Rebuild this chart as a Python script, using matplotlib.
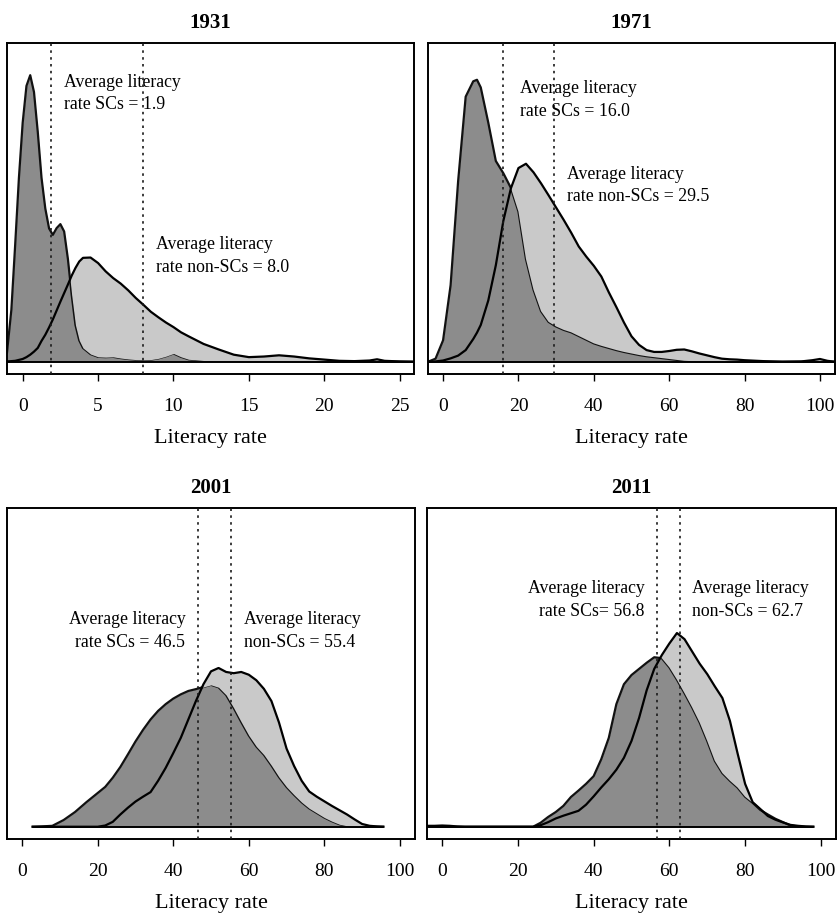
import numpy as np
import matplotlib
matplotlib.use("Agg")
import matplotlib.pyplot as plt

plt.rcParams['font.family'] = ['Liberation Serif', 'DejaVu Serif']

# density curves (relative height, 1.0 = top of data range)
years = ['1931', '1971', '2001', '2011']

x1931 = [-1.04, -0.75, -0.5, -0.25, 0, 0.25, 0.5, 0.75, 1.0, 1.25, 1.5, 1.75, 2.0, 2.25, 2.5, 2.75,
         3.0, 3.25, 3.5, 3.75, 4.0, 4.5, 5.0, 5.5, 6.0, 6.5, 7.0, 7.5, 8.0, 8.5, 9.0, 9.5, 10.0, 10.5,
         11, 12, 13, 14, 15, 16, 17, 18, 19, 20, 21, 22, 23, 23.5, 24, 25, 25.9]
sc1931 = [0.03, 0.17, 0.38, 0.60, 0.78, 0.90, 0.935, 0.88, 0.75, 0.60, 0.50, 0.435, 0.414, 0.436, 0.449, 0.425,
          0.335, 0.218, 0.12, 0.07, 0.045, 0.025, 0.016, 0.015, 0.016, 0.012, 0.009, 0.007, 0.006, 0.007, 0.011, 0.018, 0.027, 0.016,
          0.008, 0.004, 0.003, 0.003, 0.002, 0.003, 0.003, 0.002, 0.001, 0.001, 0.001, 0.001, 0.001, 0.001, 0.001, 0.0, 0.0]
non1931 = [0.001, 0.002, 0.003, 0.006, 0.009, 0.015, 0.023, 0.033, 0.045, 0.068, 0.088, 0.112, 0.138, 0.167, 0.196, 0.224,
           0.252, 0.281, 0.306, 0.327, 0.339, 0.340, 0.322, 0.295, 0.273, 0.255, 0.233, 0.208, 0.186, 0.163, 0.145, 0.128, 0.113, 0.096,
           0.083, 0.058, 0.040, 0.023, 0.015, 0.017, 0.021, 0.017, 0.011, 0.007, 0.003, 0.002, 0.004, 0.008, 0.003, 0.001, 0.0]

x1971 = [-4, -2, 0, 2, 4, 6, 8, 9, 10, 12, 14, 16, 18, 20, 22, 24, 26, 28, 30, 32, 34, 36, 38, 40, 42, 44,
         46, 48, 50, 52, 54, 56, 58, 60, 62, 64, 66, 68, 70, 72, 74, 76, 78, 80, 85, 90, 95, 98, 100, 102, 104]
sc1971 = [0.0, 0.01, 0.07, 0.25, 0.59, 0.865, 0.915, 0.92, 0.895, 0.78, 0.655, 0.615, 0.567, 0.49, 0.335, 0.235, 0.165, 0.13, 0.115, 0.104, 0.096, 0.084, 0.072, 0.060, 0.052, 0.045,
          0.038, 0.032, 0.027, 0.022, 0.018, 0.015, 0.012, 0.009, 0.006, 0.003, 0.002, 0.001, 0.001, 0.001, 0.001, 0.0, 0.0, 0.0, 0.0, 0.0, 0.0, 0.0, 0.0, 0.0, 0.0]
non1971 = [0.0, 0.001, 0.004, 0.011, 0.02, 0.038, 0.074, 0.095, 0.12, 0.2, 0.315, 0.46, 0.566, 0.632, 0.646, 0.618, 0.582, 0.543, 0.503, 0.463, 0.421, 0.376, 0.343, 0.313, 0.278, 0.226,
           0.178, 0.128, 0.083, 0.055, 0.038, 0.032, 0.032, 0.035, 0.039, 0.04, 0.034, 0.027, 0.021, 0.015, 0.01, 0.008, 0.007, 0.005, 0.002, 0.0, 0.001, 0.005, 0.009, 0.003, 0.0]

x2001 = [2.8, 5, 8, 11, 14, 17, 20, 22, 24, 26, 28, 30, 32, 34, 36, 38, 40, 42, 44, 46, 48, 50, 52,
         54, 56, 58, 60, 62, 64, 66, 68, 70, 72, 74, 76, 78, 80, 82, 84, 86, 88, 90, 92, 94, 95.6]
sc2001 = [0.0, 0.001, 0.003, 0.022, 0.048, 0.08, 0.11, 0.13, 0.16, 0.195, 0.236, 0.278, 0.316, 0.35, 0.378, 0.4, 0.418, 0.432, 0.443, 0.449, 0.456, 0.463, 0.455,
          0.43, 0.388, 0.342, 0.298, 0.262, 0.235, 0.2, 0.162, 0.13, 0.104, 0.08, 0.06, 0.045, 0.03, 0.018, 0.008, 0.003, 0.0, 0.0, 0.0, 0.0, 0.0]
non2001 = [0.0, 0.0, 0.0, 0.0, 0.0, 0.0, 0.0, 0.004, 0.016, 0.04, 0.062, 0.082, 0.098, 0.113, 0.15, 0.192, 0.24, 0.29, 0.35, 0.41, 0.465, 0.507, 0.518,
           0.505, 0.501, 0.505, 0.496, 0.478, 0.45, 0.41, 0.34, 0.255, 0.198, 0.15, 0.115, 0.098, 0.083, 0.068, 0.054, 0.04, 0.024, 0.009, 0.003, 0.001, 0.0]

x2011 = [-4, -2, 0, 2, 4, 6, 8, 10, 15, 20, 24, 26, 28, 30, 32, 34, 36, 38, 40, 42, 44, 46, 48, 50,
         52, 54, 56, 58, 60, 62, 64, 66, 68, 70, 72, 74, 76, 78, 80, 82, 84, 86, 88, 90, 92, 94, 96, 98]
sc2011 = [0.0, 0.0, 0.0, 0.0, 0.0, 0.0, 0.0, 0.0, 0.0, 0.0, 0.0, 0.013, 0.032, 0.048, 0.068, 0.097, 0.118, 0.14, 0.165, 0.22, 0.29, 0.4, 0.465, 0.495,
          0.515, 0.535, 0.553, 0.55, 0.52, 0.48, 0.436, 0.39, 0.34, 0.28, 0.215, 0.175, 0.15, 0.128, 0.098, 0.078, 0.055, 0.04, 0.026, 0.015, 0.004, 0.001, 0.0, 0.0]
non2011 = [0.003, 0.003, 0.004, 0.003, 0.001, 0.0, 0.0, 0.0, 0.0, 0.0, 0.0, 0.005, 0.015, 0.027, 0.036, 0.044, 0.052, 0.072, 0.099, 0.128, 0.155, 0.186, 0.225, 0.28,
           0.355, 0.445, 0.515, 0.56, 0.598, 0.632, 0.612, 0.572, 0.532, 0.498, 0.458, 0.42, 0.345, 0.24, 0.14, 0.08, 0.058, 0.035, 0.023, 0.014, 0.006, 0.003, 0.001, 0.0]

mean_sc = [1.9, 16.0, 46.5, 56.8]
mean_non = [8.0, 29.5, 55.4, 62.7]

ticks1931 = [0, 5, 10, 15, 20, 25]
ticks_pct = [0, 20, 40, 60, 80, 100]

grids = [x1931, x1971, x2001, x2011]
sc_curves = [sc1931, sc1971, sc2001, sc2011]
non_curves = [non1931, non1971, non2001, non2011]
tick_sets = [ticks1931, ticks_pct, ticks_pct, ticks_pct]
xlims = [(-1.04, 25.95), (-4, 104), (-4, 104), (-4, 104)]

labels_sc = ['Average literacy\nrate SCs = 1.9', 'Average literacy\nrate SCs = 16.0',
             'Average literacy\nrate SCs = 46.5', 'Average literacy\nrate SCs= 56.8']
labels_non = ['Average literacy\nrate non-SCs = 8.0', 'Average literacy\nrate non-SCs = 29.5',
              'Average literacy\nnon-SCs = 55.4', 'Average literacy\nnon-SCs = 62.7']
# (x, y, ha) of each label block
pos_sc = [(2.75, 0.94, 'left'), (20.3, 0.92, 'left'), (43.2, 0.705, 'right'), (53.5, 0.805, 'right')]
pos_non = [(8.85, 0.41, 'left'), (33.0, 0.64, 'left'), (58.8, 0.705, 'left'), (66.0, 0.805, 'left')]

# axes rectangles in figure pixels (left, top, right, bottom)
W, H = 838, 913
boxes = [(7, 43, 414, 374), (428, 43, 835, 374), (7, 508, 415, 839), (427, 508, 836, 839)]

dark = '#8c8c8c'
light = '#c9c9c9'

fig = plt.figure(figsize=(W / 100, H / 100), dpi=100)
fig.patch.set_facecolor('white')

for i in range(4):
    l, t, r, b = boxes[i]
    ax = fig.add_axes([l / W, 1 - b / H, (r - l) / W, (b - t) / H])
    x = np.array(grids[i])
    sc = np.array(sc_curves[i])
    non = np.array(non_curves[i])

    ax.fill_between(x, 0, sc, color=dark, lw=0, zorder=1)
    ax.plot(x, sc, color='#111111', lw=1.6, zorder=2, solid_joinstyle='round')
    ax.fill_between(x, sc, non, where=non > sc, interpolate=True, color=light, lw=0, zorder=3)
    ax.plot(x, non, color='black', lw=1.6, zorder=4, solid_joinstyle='round')
    ax.hlines(0, x.min(), x.max(), color='black', lw=1.4, zorder=4)

    for m in (mean_sc[i], mean_non[i]):
        ax.axvline(m, color='#1a1a1a', lw=1.2, linestyle=(0, (1.5, 2.6)), zorder=5)

    xs, ys, ha = pos_sc[i]
    ax.text(xs, ys, labels_sc[i], ha=ha, va='top', fontsize=12.8, linespacing=1.45, zorder=6)
    xn, yn, ha = pos_non[i]
    ax.text(xn, yn, labels_non[i], ha=ha, va='top', fontsize=12.8, linespacing=1.45, zorder=6)

    ax.set_xlim(*xlims[i])
    ax.set_ylim(-0.04, 1.04)
    ax.set_xticks(tick_sets[i])
    ax.set_yticks([])
    ax.tick_params(axis='x', direction='out', length=5, width=1, labelsize=14, pad=12)
    for s in ax.spines.values():
        s.set_linewidth(1.4)
    ax.set_xlabel('Literacy rate', fontsize=16, labelpad=10)
    ax.set_title(years[i], fontsize=15, fontweight='bold', pad=11)

fig.savefig('out.png', dpi=100, facecolor='white')
